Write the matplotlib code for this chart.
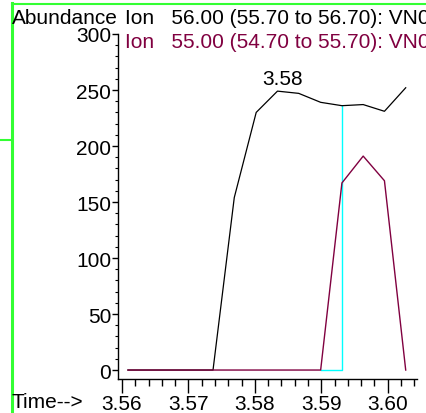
import matplotlib
matplotlib.use("Agg")
import matplotlib.pyplot as plt
from matplotlib.ticker import MultipleLocator
from matplotlib.lines import Line2D

plt.rcParams['font.family'] = ['Liberation Sans', 'DejaVu Sans']

# scan times (min)
times = [3.5609, 3.5641, 3.5673, 3.5705, 3.5737, 3.5769, 3.5802, 3.5834,
         3.5866, 3.5899, 3.5931, 3.5963, 3.5995, 3.6027]
ion56 = [0, 0, 0, 0, 0, 154, 230, 249, 247, 239, 236, 237, 231, 252]
ion55 = [0, 0, 0, 0, 0, 0, 0, 0, 0, 0, 167, 191, 169, 0]

# integration marker (baseline start, peak end, height at end)
marker_x = [3.5899, 3.5931, 3.5931]
marker_y = [0, 0, 236]

peak_label = "3.58"
peak_time = 3.5836
peak_value = 249

title56 = "Ion   56.00 (55.70 to 56.70): VN0"
title55 = "Ion   55.00 (54.70 to 55.70): VN0"
purple = "#800040"
fs = 15

fig = plt.figure(figsize=(4.26, 4.14), dpi=100)
ax = fig.add_axes([118 / 426, 34 / 414, 299 / 426, 345 / 414])

ax.plot(marker_x, marker_y, color="cyan", lw=1.0, zorder=2)
ax.plot(times, ion56, color="black", lw=0.9, zorder=3)
ax.plot(times, ion55, color=purple, lw=1.0, zorder=4)

ax.annotate(peak_label, (peak_time, peak_value), xytext=(3, 2.5), textcoords="offset points",
            ha="center", va="bottom", fontsize=fs)

ax.set_xlim(3.5594, 3.6044)
ax.set_ylim(-8, 300)
ax.xaxis.set_major_locator(MultipleLocator(0.01))
ax.xaxis.set_minor_locator(MultipleLocator(0.002))
ax.yaxis.set_major_locator(MultipleLocator(50))
ax.yaxis.set_minor_locator(MultipleLocator(10))
ax.xaxis.set_major_formatter(plt.FormatStrFormatter("%.2f"))

for s in ["top", "right"]:
    ax.spines[s].set_visible(False)
ax.spines["left"].set_linewidth(1.0)
ax.spines["bottom"].set_linewidth(1.0)
ax.tick_params(axis="x", which="major", length=10, width=1.0, pad=1, labelsize=fs)
ax.tick_params(axis="x", which="minor", length=5, width=1.0)
ax.tick_params(axis="y", which="major", length=4, width=1.0, pad=1, labelsize=fs)
ax.tick_params(axis="y", which="minor", length=2, width=0.8)

fig.text(12 / 426, 1 - 19 / 414, "Abundance", ha="left", va="center", fontsize=fs)
fig.text(125 / 426, 1 - 19 / 414, title56, ha="left", va="center", fontsize=fs)
fig.text(125 / 426, 1 - 43 / 414, title55, ha="left", va="center", fontsize=fs, color=purple)
fig.text(12 / 426, 1 - 403 / 414, "Time-->", ha="left", va="center", fontsize=fs)

# green frame pieces at the top left
green = "#33ff33"
fig.add_artist(Line2D([12 / 426, 12 / 426], [0, 1 - 4 / 414], color=green, lw=2.2))
fig.add_artist(Line2D([12 / 426, 1], [1 - 5 / 414, 1 - 5 / 414], color=green, lw=1.5))
fig.add_artist(Line2D([0, 11 / 426], [1 - 141 / 414, 1 - 141 / 414], color=green, lw=1.5))

fig.savefig("out.png", dpi=100)
